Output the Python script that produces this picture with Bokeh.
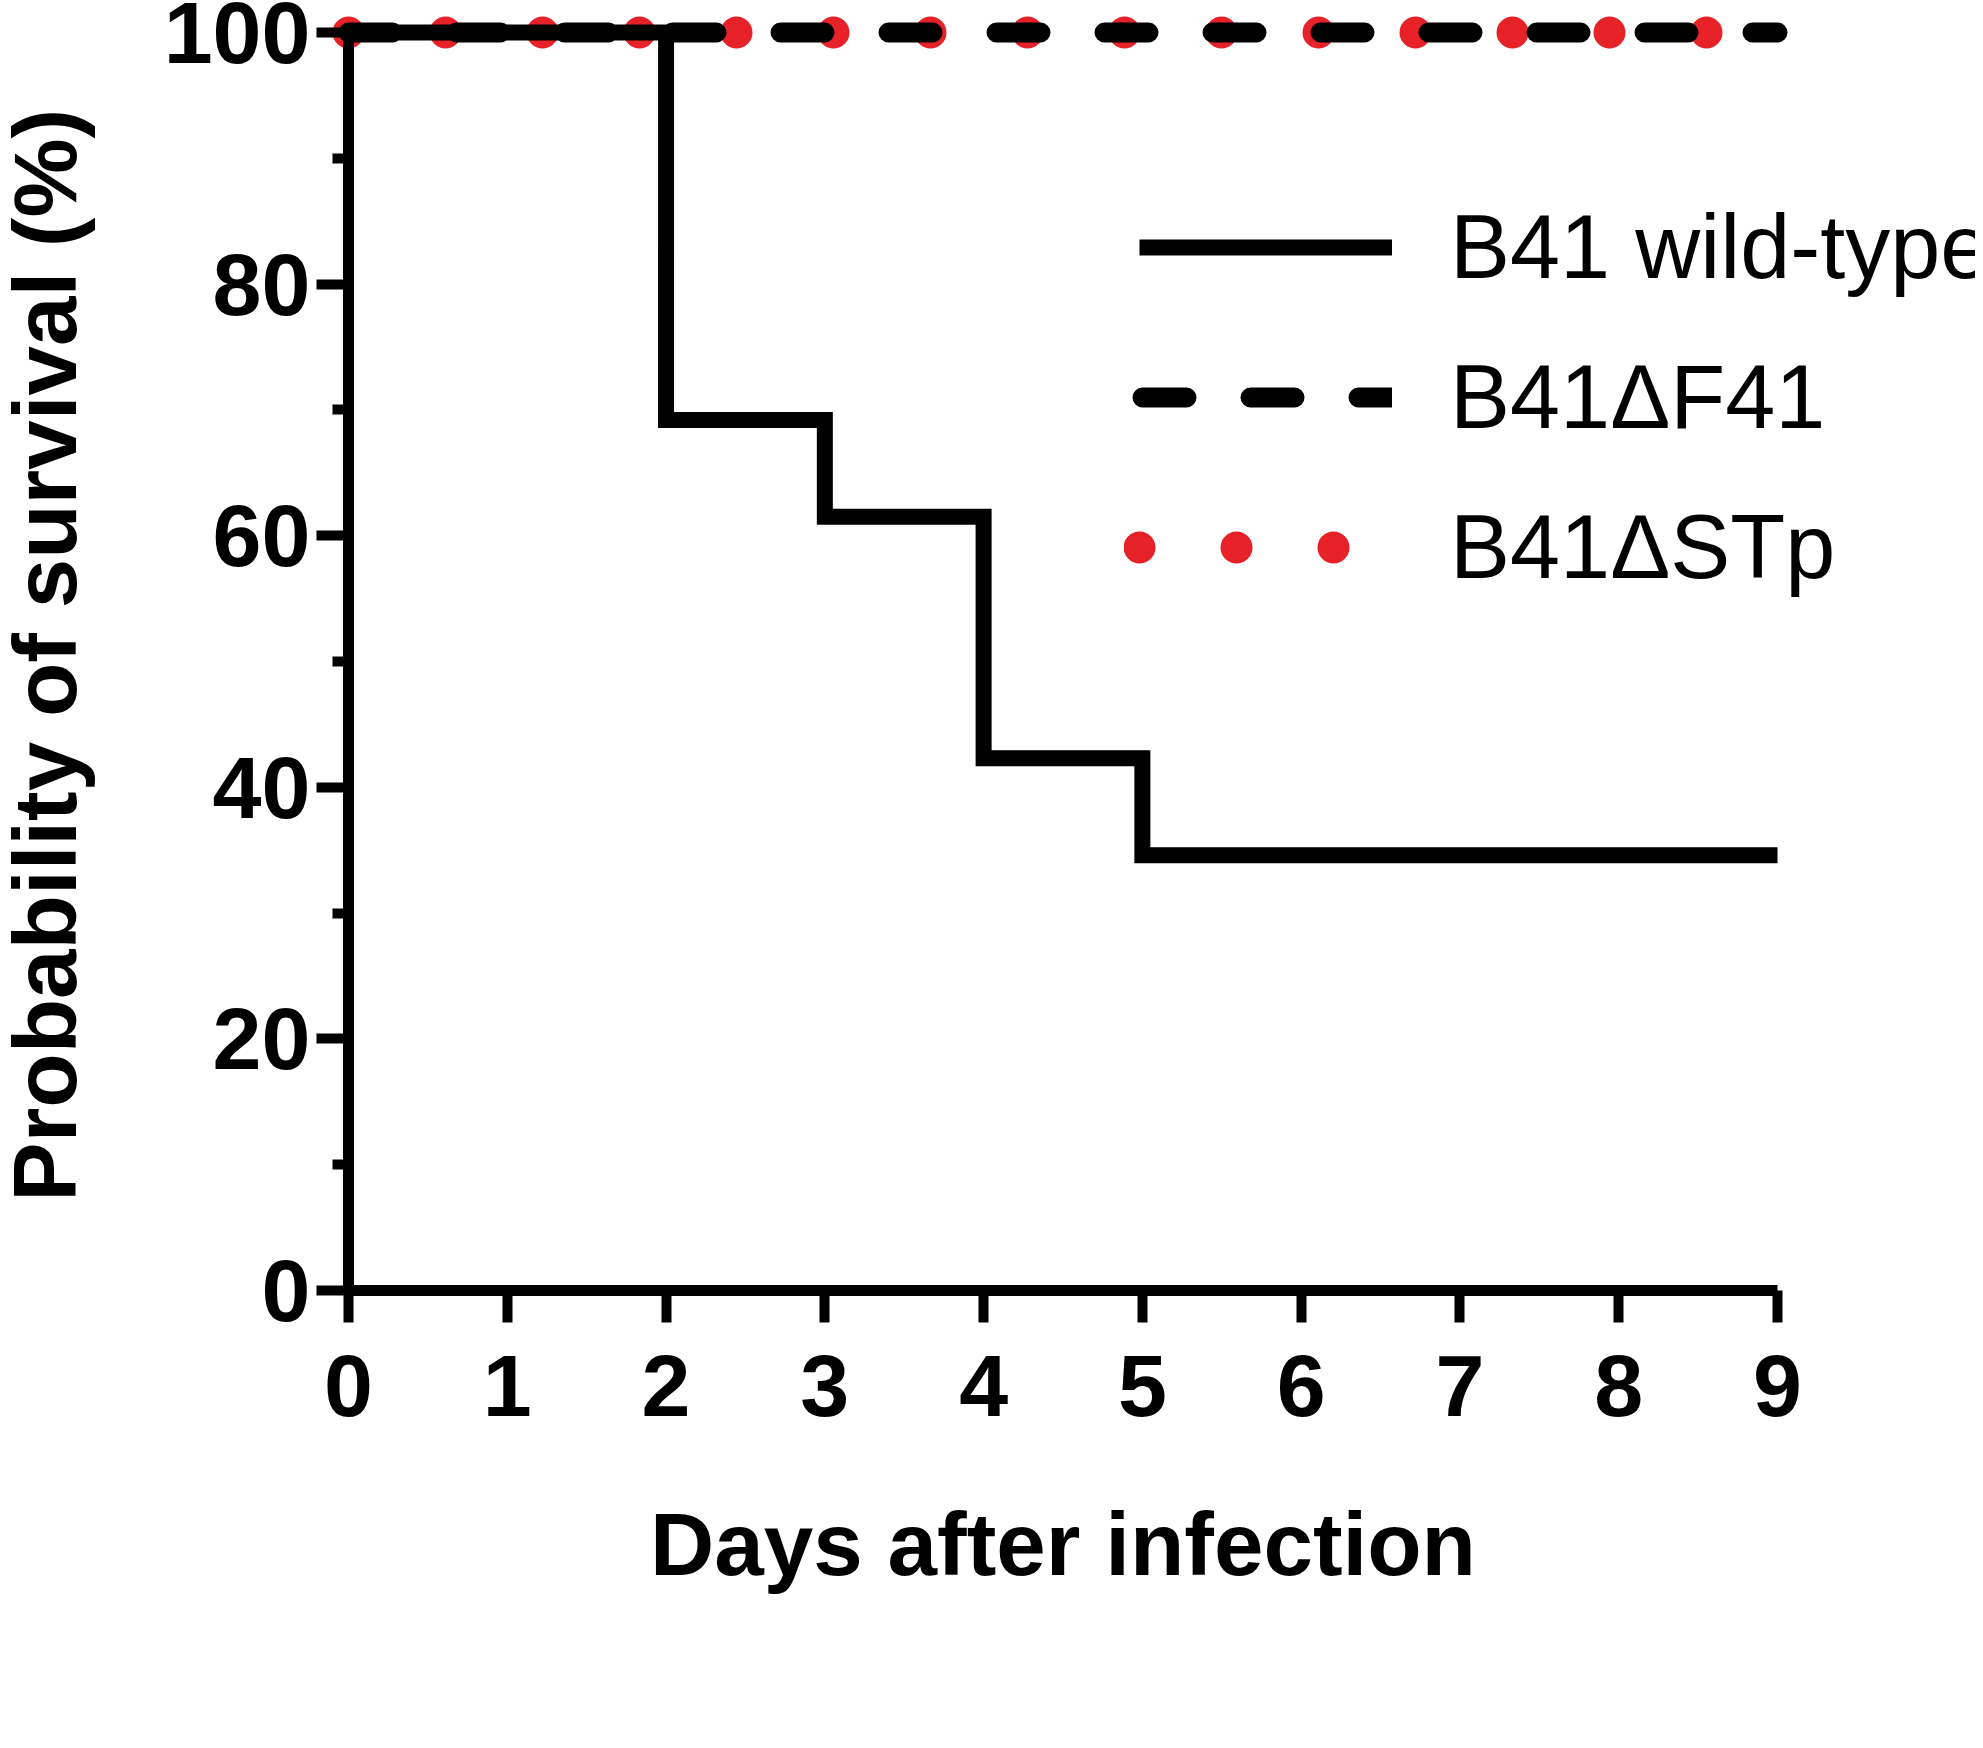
import numpy as np
from bokeh.plotting import figure
from bokeh.models import Range1d, LinearAxis, FixedTicker, Legend, LegendItem, Label
from bokeh.embed import file_html
from bokeh.resources import INLINE

# ---- data ----
days = [0, 2, 3, 4, 5, 9]
wild_type = [100, 69.2, 61.5, 42.3, 34.6, 34.6]
f41_days = [0, 9]
f41_surv = [100, 100]
stp_days = [0, 9]
stp_surv = [100, 100]
x_ticks = [0, 1, 2, 3, 4, 5, 6, 7, 8, 9]
y_ticks = [0, 20, 40, 60, 80, 100]
y_minor = [10, 30, 50, 70, 90]
series_names = ["B41 wild-type", "B41\u0394F41", "B41\u0394STp"]
x_title = "Days after infection"
y_title = "Probability of survival (%)"

# ---- layout (frame covers the whole canvas) ----
W, H = 1975, 1740
X0, X9 = 348, 1777      # pixel of day 0 / day 9
Y0, Y100 = 1290, 32     # pixel of 0 % / 100 %
PX_X = (X9 - X0) / 9.0
PX_Y = (Y0 - Y100) / 100.0
FONT = "Liberation Sans"
RED = "#e62128"

p = figure(frame_width=W, frame_height=H,
           min_border_left=0, min_border_right=0,
           min_border_top=0, min_border_bottom=0,
           x_range=Range1d(-X0 / PX_X, (W - X0) / PX_X),
           y_range=Range1d(-(H - Y0) / PX_Y, Y0 / PX_Y),
           x_axis_location=None, y_axis_location=None,
           toolbar_location=None, output_backend="svg")
# an off-screen range for legend-only sample lines
p.extra_y_ranges = {"key": Range1d(1000, 2000)}
for g in p.grid:
    g.visible = False
p.outline_line_color = None
p.background_fill_color = "white"
p.border_fill_color = "white"

yaxis = LinearAxis(fixed_location=0, bounds=(0, 100),
                   ticker=FixedTicker(ticks=y_ticks, minor_ticks=y_minor))
xaxis = LinearAxis(fixed_location=0, bounds=(0, 9),
                   ticker=FixedTicker(ticks=x_ticks, minor_ticks=[]))
for ax in (yaxis, xaxis):
    ax.axis_line_width = 11
    ax.axis_line_color = "black"
    ax.major_tick_in = 0
    ax.major_tick_out = 32
    ax.minor_tick_in = 0
    ax.minor_tick_out = 16
    ax.major_tick_line_width = 10
    ax.minor_tick_line_width = 10
    ax.major_tick_line_color = "black"
    ax.minor_tick_line_color = "black"
    ax.major_label_text_font = FONT
    ax.major_label_text_font_style = "bold"
    ax.major_label_text_font_size = "88px"
    ax.major_label_text_color = "black"
yaxis.major_label_standoff = 6
xaxis.major_label_standoff = 32
p.add_layout(yaxis, "left")
p.add_layout(xaxis, "below")

DOTS = dict(line_width=32, line_color=RED, line_dash="0 97", line_cap="round")
DASH = dict(line_width=20, line_color="black", line_dash="44 64", line_cap="round")

r_stp = p.line(stp_days, stp_surv, **DOTS)
r_f41 = p.line(f41_days, f41_surv, **DASH)
r_wt = p.step(days, wild_type, mode="after", line_width=16,
              line_color="black", line_join="miter")

# legend-only samples (drawn on the off-screen range, so invisible in the plot)
k_wt = p.line(days, wild_type, y_range_name="key", line_width=16,
              line_color="black", line_dash="253 2000", line_dash_offset=2238)
k_f41 = p.line(f41_days, f41_surv, y_range_name="key", line_dash_offset=90, **DASH)
k_stp = p.line(stp_days, stp_surv, y_range_name="key", line_dash_offset=82, **DOTS)

legend = Legend(items=[LegendItem(label=series_names[0], renderers=[k_wt]),
                       LegendItem(label=series_names[1], renderers=[k_f41]),
                       LegendItem(label=series_names[2], renderers=[k_stp])],
                location=(1124, 1118), orientation="vertical",
                glyph_width=268, glyph_height=150, spacing=0, padding=0,
                margin=0, label_standoff=58,
                label_text_font=FONT, label_text_font_size="90px",
                label_text_color="black",
                border_line_alpha=0, background_fill_alpha=0)
p.add_layout(legend)

p.add_layout(Label(x=4.5, y=-22.66 + 32 / PX_Y, text=x_title, text_align="center",
                   text_baseline="alphabetic", text_font=FONT,
                   text_font_style="bold", text_font_size="89px",
                   text_color="black"))
p.add_layout(Label(x=-1.713 - 32 / PX_X, y=50.5, text=y_title, angle=np.pi / 2,
                   text_align="center", text_baseline="alphabetic",
                   text_font=FONT, text_font_style="bold",
                   text_font_size="89px", text_color="black"))

open("out.html", "w").write(file_html(p, INLINE))
